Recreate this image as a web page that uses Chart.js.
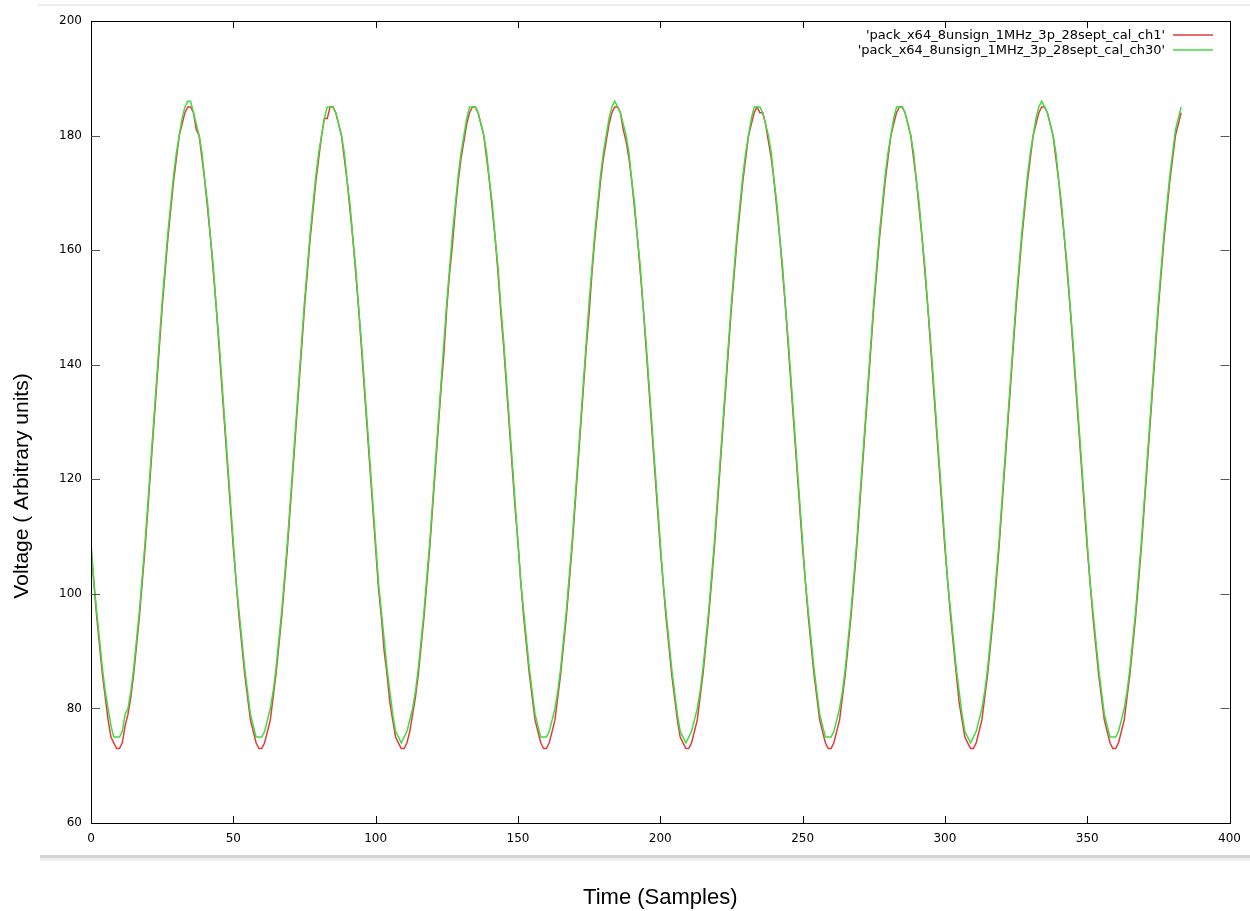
<!DOCTYPE html>
<html>
<head>
<meta charset="utf-8">
<script src="https://cdn.jsdelivr.net/npm/chart.js@4/dist/chart.umd.min.js"></script>
<style>
  body { margin: 0; background: #fff; }
  #wrap { width: 1250px; height: 911px; }
</style>
</head>
<body>
<div id="wrap"><canvas id="grafico" width="1250" height="911"></canvas></div>
<script>
// eixos
const xTicks = [0, 50, 100, 150, 200, 250, 300, 350, 400];
const yTicks = [60, 80, 100, 120, 140, 160, 180, 200];

const labelCh1 = "'pack_x64_8unsign_1MHz_3p_28sept_cal_ch1'";
const labelCh30 = "'pack_x64_8unsign_1MHz_3p_28sept_cal_ch30'";

// amostras (uma por amostra, 0..383)
const ch1 = [
  108,102,96,91,86,82,78,75,74,73, 73,74,77,79,82,86,91,96,102,108,
  115,122,129,136,143,150,156,162,167,172, 176,180,182,184,185,185,184,181,180,176,
  172,167,162,156,150,143,136,129,122,115,
  108,102,96,91,86,82,78,76,74,73, 73,74,76,78,82,86,91,96,102,108,
  115,122,129,136,143,150,156,162,167,172, 176,180,183,183,185,185,184,182,180,176,
  172,167,162,156,150,143,136,129,122,115,
  108,101,96,90,86,81,78,75,74,73, 73,74,76,79,82,86,91,96,102,108,
  115,122,129,136,142,150,156,161,167,172, 176,179,182,184,185,185,184,182,180,176,
  172,167,162,156,149,143,136,129,122,115,
  109,102,96,91,86,82,78,76,74,73, 73,74,76,78,82,86,91,96,102,108,
  115,122,129,136,143,149,156,162,167,172, 176,179,182,184,185,185,184,181,179,176,
  172,167,162,156,150,143,136,129,122,115,
  108,102,96,91,86,82,78,75,74,73, 73,74,76,78,82,86,91,96,102,108,
  115,122,129,136,143,150,156,162,167,172, 176,180,182,184,185,184,184,182,179,176,
  172,167,162,156,150,143,136,129,122,115,
  108,102,96,91,86,82,78,76,74,73, 73,74,76,78,82,86,91,96,102,108,
  115,122,129,136,143,150,156,162,167,172, 176,180,182,184,185,185,184,182,180,176,
  172,167,162,156,150,143,136,129,122,115,
  108,102,96,91,86,81,78,75,74,73, 73,74,76,78,82,86,91,96,102,108,
  115,122,129,136,143,150,156,162,167,172, 176,180,182,184,185,185,184,182,180,176,
  172,167,162,156,150,143,136,129,122,115,
  108,102,96,91,86,82,78,76,74,73, 73,74,76,78,82,86,91,96,102,108,
  115,122,129,136,143,150,156,162,167,172, 176,180,182,184
];

const ch30 = [
  109,102,97,92,87,83,80,77,75,75, 75,76,79,80,83,87,92,97,103,109,
  116,123,130,137,144,151,157,163,168,173, 177,180,183,185,186,186,184,182,180,177,
  172,168,162,157,150,144,137,130,123,116,
  109,102,97,92,87,83,79,77,75,75, 75,76,78,80,83,87,92,97,103,109,
  116,123,130,137,144,151,157,163,168,173, 177,180,183,185,185,185,184,182,180,177,
  172,168,162,157,150,144,137,130,123,116,
  109,102,97,92,87,83,79,76,75,74, 75,76,78,80,83,87,92,97,103,109,
  116,123,130,137,144,151,157,163,168,173, 177,180,183,185,185,185,184,182,180,177,
  172,168,162,157,150,144,137,130,123,116,
  109,102,97,92,87,83,79,77,75,75, 75,76,78,80,83,87,92,97,103,109,
  116,123,130,137,144,151,157,163,168,173, 177,180,183,185,186,185,184,182,180,177,
  172,168,162,157,150,144,137,130,123,116,
  109,102,97,92,87,83,79,76,75,74, 75,76,78,80,83,87,92,97,103,109,
  116,123,130,137,144,151,157,163,168,173, 177,180,183,185,185,185,184,182,180,177,
  172,168,162,157,150,144,137,130,123,116,
  109,102,97,92,87,83,79,77,75,75, 75,76,78,80,83,87,92,97,103,109,
  116,123,130,137,144,151,157,163,168,173, 177,180,183,185,185,185,184,182,180,177,
  172,168,162,157,150,144,137,130,123,116,
  109,102,97,92,87,83,79,76,75,74, 75,76,78,80,83,87,92,97,103,109,
  116,123,130,137,144,151,157,163,168,173, 177,180,183,185,186,185,184,182,180,177,
  172,168,162,157,150,144,137,130,123,116,
  109,102,97,92,87,83,79,77,75,75, 75,76,78,80,83,87,92,97,103,109,
  116,123,130,137,144,151,157,163,168,173, 177,181,183,185
];

const corCh1 = '#e23b3b';
const corCh30 = '#3fdc3f';

// moldura, tiques internos, legenda e titulo do eixo y (estilo gnuplot)
const estiloGnuplot = {
  id: 'estiloGnuplot',
  afterDraw(chart) {
    const ctx = chart.ctx;
    const { left, right, top, bottom } = chart.chartArea;
    const sx = chart.scales.x, sy = chart.scales.y;
    ctx.save();

    // faixas cinzas da janela
    ctx.fillStyle = '#ececec';
    ctx.fillRect(38, 4, 1212, 2);
    ctx.fillStyle = '#d4d4d4';
    ctx.fillRect(40, 855, 1210, 3);
    ctx.fillStyle = '#efefef';
    ctx.fillRect(40, 858, 1210, 3);

    ctx.strokeStyle = '#000';
    ctx.lineWidth = 1;
    ctx.strokeRect(Math.round(left) + 0.5, Math.round(top) + 0.5,
      Math.round(right - left), Math.round(bottom - top));

    // tiques
    ctx.strokeStyle = '#555';
    yTicks.slice(1, -1).forEach(v => {
      const y = Math.round(sy.getPixelForValue(v)) + 0.5;
      ctx.beginPath();
      ctx.moveTo(left, y); ctx.lineTo(left + 9, y);
      ctx.moveTo(right, y); ctx.lineTo(right - 9, y);
      ctx.stroke();
    });
    ctx.strokeStyle = '#000';
    xTicks.slice(1, -1).forEach(v => {
      const x = Math.round(sx.getPixelForValue(v)) + 0.5;
      ctx.beginPath();
      ctx.moveTo(x, bottom); ctx.lineTo(x, bottom - 7);
      ctx.moveTo(x, top); ctx.lineTo(x, top + 7);
      ctx.stroke();
    });

    // legenda
    ctx.font = '13px "DejaVu Sans"';
    ctx.textAlign = 'right';
    ctx.textBaseline = 'middle';
    chart.data.datasets.forEach((ds, i) => {
      const y = 35 + i * 15;
      ctx.fillStyle = '#000';
      ctx.fillText(ds.label, 1165, y + 1);
      ctx.strokeStyle = ds.borderColor;
      ctx.lineWidth = 1.5;
      ctx.beginPath();
      ctx.moveTo(1173, y); ctx.lineTo(1213, y);
      ctx.stroke();
    });

    // titulo do eixo y
    ctx.translate(22, 486);
    ctx.rotate(-Math.PI / 2);
    ctx.textAlign = 'center';
    ctx.fillStyle = '#000';
    ctx.font = '21px "Liberation Sans"';
    ctx.fillText('Voltage ( Arbitrary units)', 0, 0);
    ctx.restore();
  }
};

new Chart(document.getElementById('grafico'), {
  type: 'line',
  data: {
    datasets: [
      {
        label: labelCh1,
        data: ch1.map((v, i) => ({ x: i, y: v })),
        borderColor: corCh1,
        borderWidth: 1.5,
        pointRadius: 0,
        tension: 0,
        order: 1
      },
      {
        label: labelCh30,
        data: ch30.map((v, i) => ({ x: i, y: v })),
        borderColor: corCh30,
        borderWidth: 1.5,
        pointRadius: 0,
        tension: 0,
        order: 0
      }
    ]
  },
  options: {
    responsive: false,
    animation: false,
    devicePixelRatio: 1,
    layout: { padding: { top: 21, right: 20, left: 0, bottom: 0 } },
    plugins: {
      legend: { display: false },
      tooltip: { enabled: false }
    },
    scales: {
      x: {
        type: 'linear',
        min: 0,
        max: 400,
        afterBuildTicks: s => { s.ticks = xTicks.map(v => ({ value: v })); },
        afterFit: s => { s.height = 88; },
        grid: { display: false, drawTicks: false },
        border: { display: false },
        ticks: {
          padding: 9,
          color: '#000',
          font: { family: 'DejaVu Sans', size: 12 },
          maxRotation: 0
        },
        title: {
          display: true,
          text: 'Time (Samples)',
          color: '#000',
          font: { family: 'Liberation Sans', size: 22 },
          padding: { top: 0, bottom: 0 }
        }
      },
      y: {
        min: 60,
        max: 200,
        afterBuildTicks: s => { s.ticks = yTicks.map(v => ({ value: v })); },
        afterFit: s => { s.width = 91; },
        grid: { display: false, drawTicks: false },
        border: { display: false },
        ticks: {
          padding: 9,
          color: '#000',
          font: { family: 'DejaVu Sans', size: 12 }
        }
      }
    }
  },
  plugins: [estiloGnuplot]
});
</script>
</body>
</html>
